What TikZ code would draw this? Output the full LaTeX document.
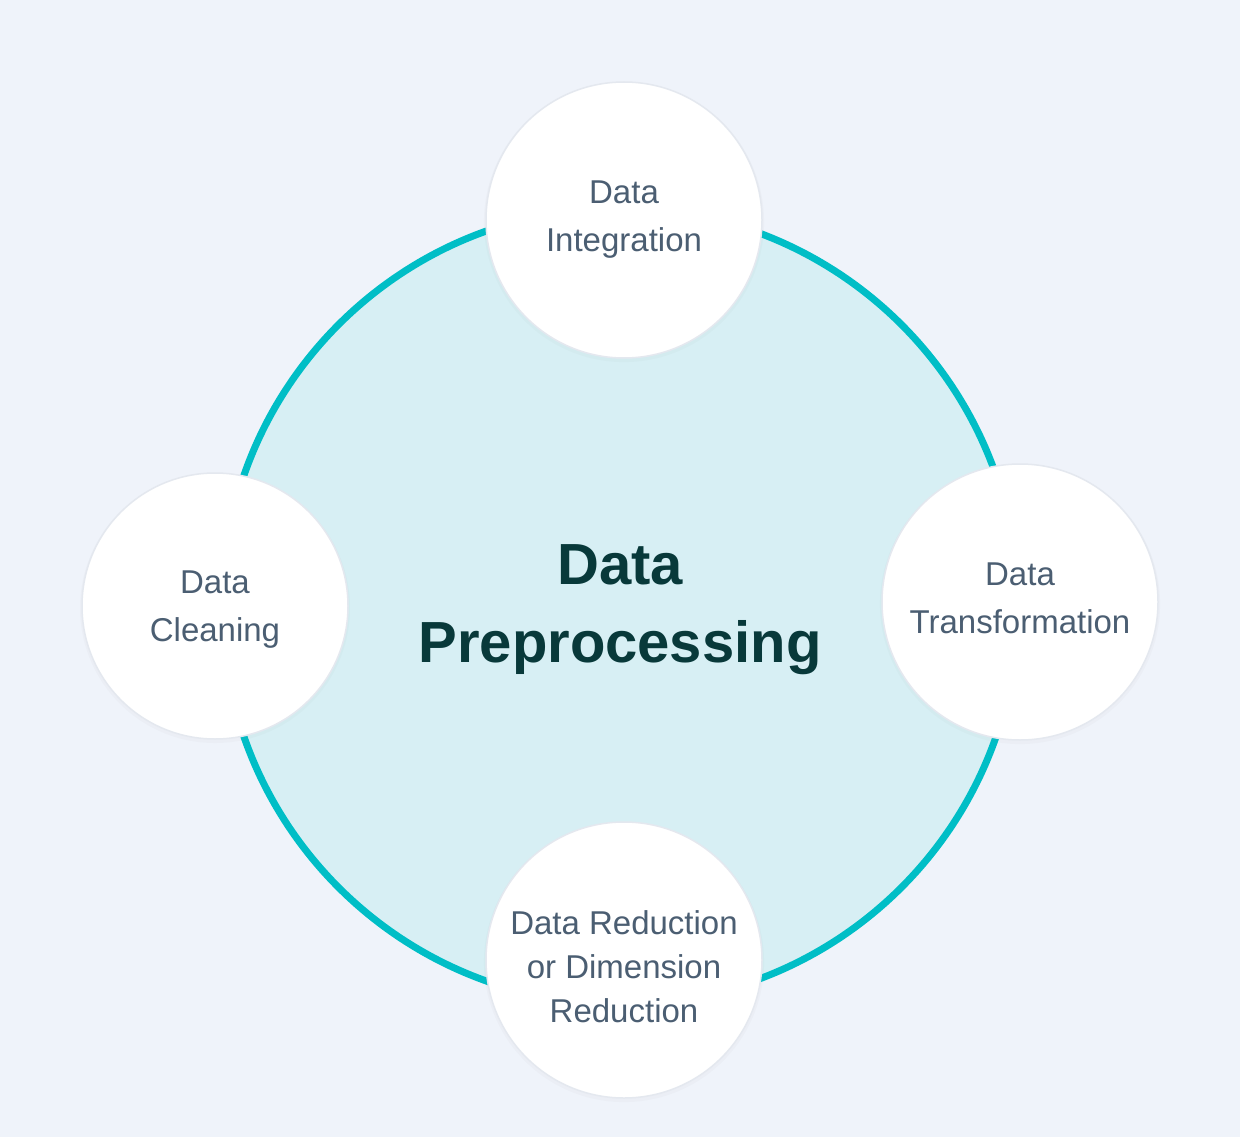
\documentclass[tikz,border=0pt]{standalone}
\usepackage{xcolor}
\usepackage{tikz}
\usepackage{fontspec}
\setmainfont{Liberation Sans}
\definecolor{paper}{RGB}{239,243,250}
\definecolor{ring}{RGB}{0,190,198}
\definecolor{ringfill}{RGB}{215,239,244}
\definecolor{slate}{RGB}{75,94,114}
\definecolor{deepteal}{RGB}{8,57,58}
\definecolor{rim}{RGB}{228,232,239}
\usetikzlibrary{shadows}

\begin{document}
\begin{tikzpicture}[x=1pt, y=-1pt,
    hub/.style={circle, draw=ring, line width=7pt, fill=ringfill, minimum size=796pt,
      inner sep=0pt, align=center, text=deepteal, font=\bfseries\fontsize{58}{78}\selectfont},
    stage/.style={circle, draw=rim, line width=1.5pt, fill=white, minimum size=276pt,
      inner sep=0pt, align=center, text=slate, font=\fontsize{33}{48}\selectfont,
      drop shadow={opacity=0.035, shadow xshift=0pt, shadow yshift=-2pt, shadow scale=1.015}}]
    % Background
    \fill[paper] (0,0) rectangle (1240,1137);
    \useasboundingbox (0,0) rectangle (1240,1137);
    % Central ring
    \node[hub, text height=125pt] (title) at (620,606) {Data\\Preprocessing};
    % Stages round the ring
    \node[stage] (integration) at (624,220) {Data\\Integration};
    \node[stage, minimum size=266pt, text height=78pt] (cleaning) at (215,606) {Data\\Cleaning};
    \node[stage, text depth=8pt] (transformation) at (1020,602) {Data\\Transformation};
    \node[stage, text height=125pt, font=\fontsize{33}{44}\selectfont] (reduction) at (624,960) {Data Reduction\\or Dimension\\Reduction};
\end{tikzpicture}
\end{document}
